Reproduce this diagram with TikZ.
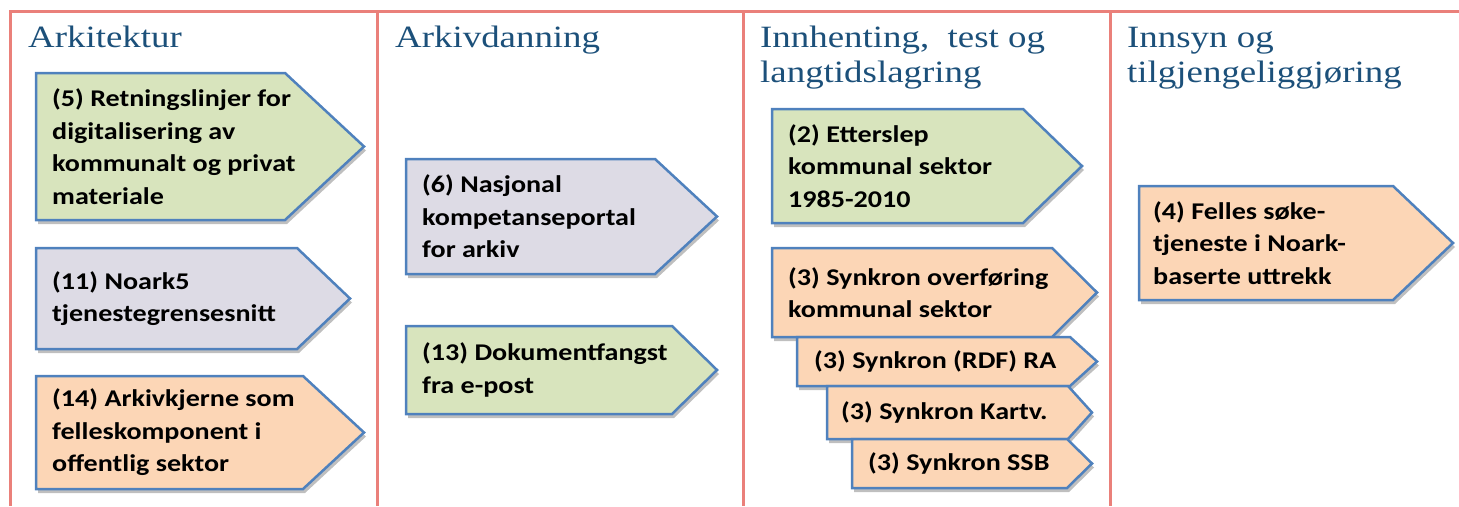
\documentclass[tikz,border=0pt]{standalone}
\usepackage{fontspec}
\setmainfont{Carlito}
\newfontfamily\titlefont{Liberation Serif}[FakeStretch=1.19]
\newfontfamily\boxfont{Carlito}[FakeStretch=1.17]
\usetikzlibrary{shadows}
\definecolor{framered}{RGB}{234,128,122}
\definecolor{boxblue}{RGB}{79,129,189}
\definecolor{fgreen}{RGB}{216,228,189}
\definecolor{fgrey}{RGB}{221,219,229}
\definecolor{fpeach}{RGB}{252,214,182}
\definecolor{titleblue}{RGB}{28,80,122}
\tikzset{
  frame/.style={draw=framered, line width=3pt},
  coltitle/.style={font=\titlefont\fontsize{31}{35}\selectfont, text=titleblue, inner sep=0pt, anchor=base west},
  arrowshape/.style={draw=boxblue, line width=2.5pt, line join=miter,
    drop shadow={shadow xshift=2pt, shadow yshift=-4pt, opacity=0.25, fill=black}},
  boxtext/.style={font=\boxfont\fontsize{24}{32.5}\selectfont\bfseries, text=black, inner sep=0pt, align=left, anchor=west}
}
% #1 name, #2 left, #3 top, #4 straight end, #5 tip, #6 bottom, #7 fill, #8 text, #9 text offset
\newcommand\abox[9]{%
  \path[arrowshape, fill=#7] (#2,-#3) -- (#4,-#3) -- (#5,{-(#3+#6)/2}) -- (#4,-#6) -- (#2,-#6) -- cycle;
  \node[boxtext] (#1) at ({#2+#9},{-(#3+#6)/2}) {#8};
}
\begin{document}
\begin{tikzpicture}[x=1pt,y=1pt]
\useasboundingbox (0,0) rectangle (1459,-506);
% frame
\draw[frame] (10,-506) -- (10,-11) -- (1459,-11);
\draw[frame] (377,-11) -- (377,-506);
\draw[frame] (743,-11) -- (743,-506);
\draw[frame] (1110,-11) -- (1110,-506);
% titles
\node[coltitle] (t1) at (28,-47) {Arkitektur};
\node[coltitle] (t2) at (395,-47) {Arkivdanning};
\node[coltitle] (t3a) at (760,-47) {Innhenting,\ \ test og};
\node[coltitle] (t3b) at (760,-82) {langtidslagring};
\node[coltitle] (t4a) at (1127,-47) {Innsyn og};
\node[coltitle] (t4b) at (1127,-82) {tilgjengeliggjøring};
% column 1
\abox{b5}{36}{73}{285}{364}{220}{fgreen}{(5) Retningslinjer for\\digitalisering av\\kommunalt og privat\\materiale}{16}
\abox{b11}{36}{248}{297}{350}{349}{fgrey}{(11) Noark5\\tjenestegrensesnitt}{16}
\abox{b14}{36}{376}{303}{364}{489}{fpeach}{(14) Arkivkjerne som\\felleskomponent i\\offentlig sektor}{16}
% column 2
\abox{b6}{406}{159}{655}{717}{274}{fgrey}{(6) Nasjonal\\kompetanseportal\\for arkiv}{16}
\abox{b13}{406}{326}{672}{717}{414}{fgreen}{(13) Dokumentfangst\\fra e-post}{16}
% column 3
\abox{b2}{772}{109}{1023}{1082}{223}{fgreen}{(2) Etterslep\\kommunal sektor\\1985-2010}{16}
\abox{b3a}{772}{248}{1052}{1097}{337}{fpeach}{(3) Synkron overføring\\kommunal sektor}{16}
\abox{b3b}{797}{337}{1070}{1097}{386}{fpeach}{(3) Synkron (RDF) RA}{17}
\abox{b3c}{827}{386}{1068}{1092}{439}{fpeach}{(3) Synkron Kartv.}{14}
\abox{b3d}{852}{439}{1067}{1092}{488}{fpeach}{(3) Synkron SSB}{16}
% column 4
\abox{b4}{1139}{186}{1393}{1453}{300}{fpeach}{(4) Felles søke-\\tjeneste i Noark-\\baserte uttrekk}{14}
\end{tikzpicture}
\end{document}
